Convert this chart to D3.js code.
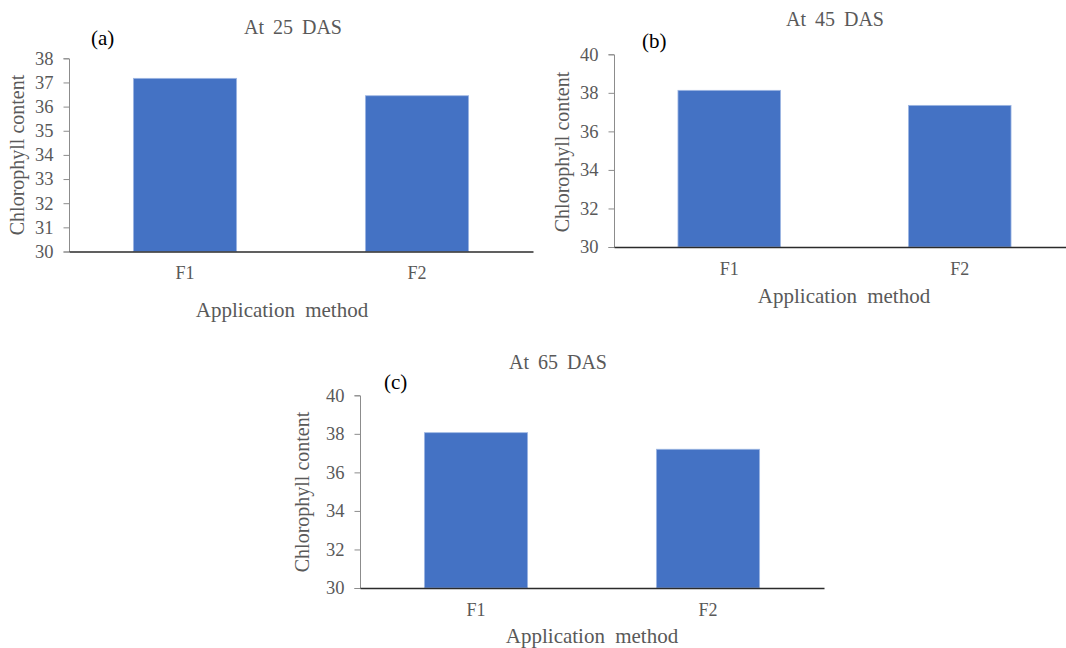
<!DOCTYPE html>
<html>
<head>
<meta charset="utf-8">
<script src="https://cdn.jsdelivr.net/npm/d3@7"></script>
<style>
  body { margin: 0; background: #fff; }
</style>
</head>
<body>
<div id="chart"></div>
<script>
// Data
var categories = ["F1", "F2"];
var values25 = [37.17, 36.45];
var values45 = [38.13, 37.35];
var values65 = [38.06, 37.2];
var ticks25 = [30, 31, 32, 33, 34, 35, 36, 37, 38];
var ticks45 = [30, 32, 34, 36, 38, 40];
var ticks65 = [30, 32, 34, 36, 38, 40];
var titles = ["At 25 DAS", "At 45 DAS", "At 65 DAS"];
var tags = ["(a)", "(b)", "(c)"];

var serif = "'Liberation Serif', 'Times New Roman', serif";

var svg = d3.select("#chart")
    .append("svg")
    .attr("width", 1066)
    .attr("height", 648);

// layout of the three panels
var panels = [
    { values: values25, ticks: ticks25, title: titles[0], tag: tags[0],
      x0: 69, x1: 533, yTop: 58.3, yBottom: 251.5,
      titlePos: [293, 34], tagPos: [91, 45], labelY: 317, labelX: 282, yLabelPos: [24, 155] },
    { values: values45, ticks: ticks45, title: titles[1], tag: tags[1],
      x0: 614, x1: 1075, yTop: 54.3, yBottom: 247,
      titlePos: [835, 26], tagPos: [642, 48], labelY: 303, labelX: 844, yLabelPos: [569, 152] },
    { values: values65, ticks: ticks65, title: titles[2], tag: tags[2],
      x0: 360, x1: 824, yTop: 395.3, yBottom: 588,
      titlePos: [558, 369], tagPos: [384, 389], labelY: 642.5, labelX: 592, yLabelPos: [309, 492] }
];

panels.forEach(function(p) {
    var g = svg.append("g");

    var x = d3.scaleBand()
        .domain(categories)
        .range([p.x0, p.x1])
        .paddingInner(0.555)
        .paddingOuter(0.2775);

    var y = d3.scaleLinear()
        .domain([p.ticks[0], p.ticks[p.ticks.length - 1]])
        .range([p.yBottom, p.yTop]);

    // bars
    g.selectAll("rect")
        .data(p.values)
        .enter()
        .append("rect")
        .attr("x", (d, i) => x(categories[i]))
        .attr("width", x.bandwidth())
        .attr("y", d => y(d))
        .attr("height", d => y(y.domain()[0]) - y(d))
        .attr("fill", "#4472c4")
        .attr("stroke", "#9fb7e3")
        .attr("stroke-width", 0.8);

    // y axis
    var yAxis = g.append("g")
        .attr("transform", `translate(${p.x0},0)`)
        .call(d3.axisLeft(y).tickValues(p.ticks).tickSize(5.5).tickPadding(10).tickFormat(d3.format("d")));
    yAxis.select(".domain").attr("stroke", "#8c8c8c");
    yAxis.selectAll(".tick line").attr("stroke", "#8c8c8c");
    yAxis.selectAll(".tick text")
        .attr("fill", "#595959")
        .style("font-family", serif)
        .style("font-size", "18.5px");

    // x axis
    var xAxis = g.append("g")
        .attr("transform", `translate(0,${p.yBottom})`)
        .call(d3.axisBottom(x).tickSize(0).tickPadding(15));
    xAxis.select(".domain").attr("stroke", "#2b2b2b").attr("stroke-width", 1.6);
    xAxis.selectAll(".tick text")
        .attr("fill", "#595959")
        .style("font-family", serif)
        .style("font-size", "18px");

    // titles and labels
    g.append("text")
        .attr("x", p.titlePos[0])
        .attr("y", p.titlePos[1])
        .attr("text-anchor", "middle")
        .attr("fill", "#595959")
        .style("font-family", serif)
        .style("font-size", "20px")
        .style("word-spacing", "4px")
        .text(p.title);

    g.append("text")
        .attr("x", p.tagPos[0])
        .attr("y", p.tagPos[1])
        .attr("fill", "#000")
        .style("font-family", serif)
        .style("font-size", "21px")
        .text(p.tag);

    g.append("text")
        .attr("x", p.labelX)
        .attr("y", p.labelY)
        .attr("text-anchor", "middle")
        .attr("fill", "#595959")
        .style("font-family", serif)
        .style("font-size", "21px")
        .style("word-spacing", "5px")
        .text("Application method");

    g.append("text")
        .attr("transform", `translate(${p.yLabelPos[0]},${p.yLabelPos[1]}) rotate(-90)`)
        .attr("text-anchor", "middle")
        .attr("fill", "#595959")
        .style("font-family", serif)
        .style("font-size", "20px")
        .text("Chlorophyll content");
});
</script>
</body>
</html>
